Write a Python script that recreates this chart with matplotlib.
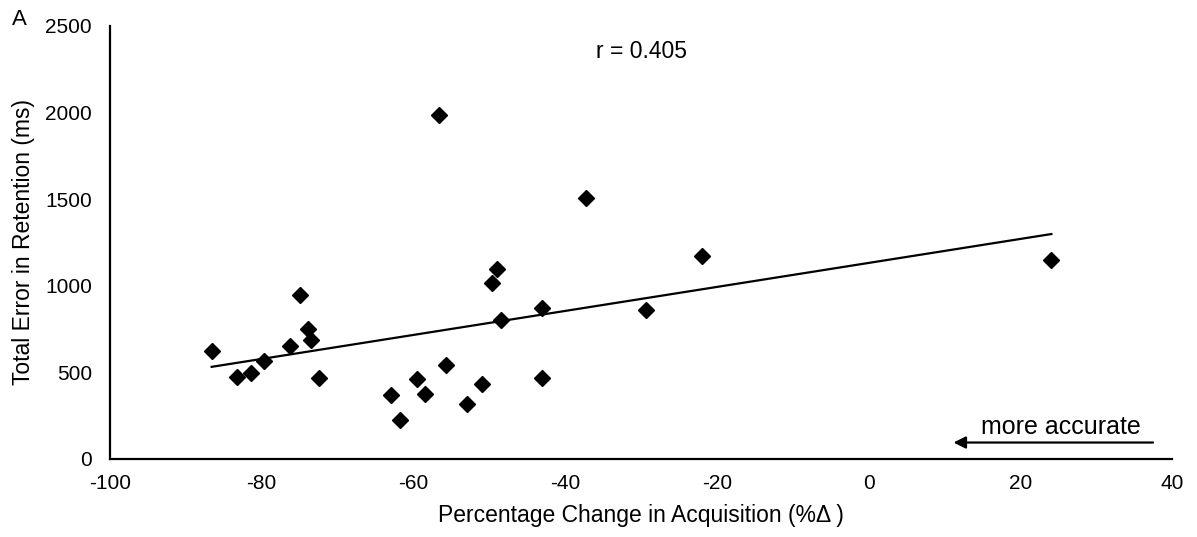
import matplotlib
matplotlib.use("Agg")
import matplotlib.pyplot as plt
import numpy as np

plt.rcParams['font.family'] = ['Liberation Sans', 'DejaVu Sans']
plt.rcParams['axes.unicode_minus'] = False

# percentage change in acquisition (x) vs total error in retention (y)
pct_change = [-86.6, -83.2, -81.4, -79.7, -76.3, -75.0, -73.9, -73.5, -72.5,
              -62.9, -61.8, -59.5, -58.5, -56.6, -55.7, -53.0, -50.9, -49.6,
              -49.0, -48.4, -43.0, -43.0, -37.2, -29.3, -22.0, 24.1]
total_error = [621, 476, 496, 567, 650, 949, 752, 689, 467,
               370, 226, 463, 376, 1985, 544, 318, 434, 1017,
               1098, 804, 872, 467, 1505, 862, 1171, 1146]

x = np.array(pct_change)
y = np.array(total_error)

fig = plt.figure(figsize=(11.97, 5.37), dpi=100)
ax = fig.add_axes([0.0919, 0.1453, 0.8872, 0.8063])

ax.plot(x, y, linestyle='none', marker='D', markersize=8.5, color='black')

# linear trend over the data range
slope, intercept = np.polyfit(x, y, 1)
xs = np.array([x.min(), x.max()])
ax.plot(xs, slope * xs + intercept, color='black', lw=1.6)

ax.set_xlim(-100, 40)
ax.set_ylim(0, 2500)
ax.set_xticks(np.arange(-100, 41, 20))
ax.set_yticks(np.arange(0, 2501, 500))
ax.tick_params(length=0, labelsize=15)
ax.tick_params(axis='y', pad=13)
ax.tick_params(axis='x', pad=11)
for side in ['top', 'right']:
    ax.spines[side].set_visible(False)
for side in ['left', 'bottom']:
    ax.spines[side].set_linewidth(1.6)

ax.set_xlabel("Percentage Change in Acquisition (%\u0394 )", fontsize=16.5, labelpad=8)
ax.set_ylabel("Total Error in Retention (ms)", fontsize=16.5, labelpad=7)

ax.text(-29.9, 2354, "r = 0.405", fontsize=16.5, ha='center', va='center')
ax.text(25.4, 184, "more accurate", fontsize=18, ha='center', va='center')
ax.annotate("", xy=(11.2, 95), xytext=(37.5, 95),
            arrowprops=dict(arrowstyle='-|>', color='black', lw=1.6,
                            mutation_scale=18, shrinkA=0, shrinkB=0))

fig.text(0.016, 0.963, "A", fontsize=16, ha='center', va='center')

plt.savefig("out.png", dpi=100)
plt.close()
